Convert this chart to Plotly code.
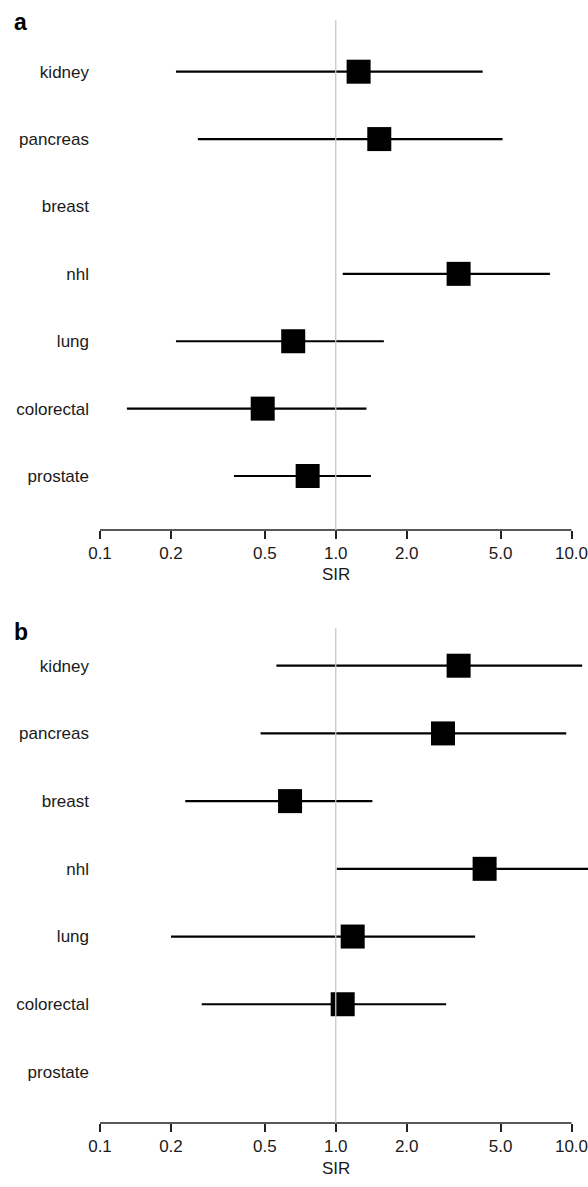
import plotly.graph_objects as go

# ---- data ----
categories = ["kidney", "pancreas", "breast", "nhl", "lung", "colorectal", "prostate"]
a_sir = [1.25, 1.53, None, 3.32, 0.66, 0.49, 0.76]
a_low = [0.21, 0.26, None, 1.07, 0.21, 0.13, 0.37]
a_high = [4.2, 5.1, None, 8.1, 1.6, 1.35, 1.41]
b_sir = [3.32, 2.85, 0.64, 4.28, 1.18, 1.07, None]
b_low = [0.56, 0.48, 0.23, 1.01, 0.20, 0.27, None]
b_high = [11.1, 9.5, 1.43, 13.0, 3.9, 2.94, None]
tick_vals = [0.1, 0.2, 0.5, 1, 2, 5, 10]
tick_text = ["0.1", "0.2", "0.5", "1.0", "2.0", "5.0", "10.0"]
panel_labels = ["a", "b"]
ref_value = 1.0
x_title = "SIR"

FONT = "Liberation Sans, Arial, Helvetica, sans-serif"
W, H = 588, 1187
rows = list(range(len(categories), 0, -1))

panels = [
    dict(sir=a_sir, low=a_low, high=a_high, ydom=[1 - 530 / H, 1 - 20 / H], yr=[0.199, 7.767]),
    dict(sir=b_sir, low=b_low, high=b_high, ydom=[1 - 1123 / H, 1 - 628 / H], yr=[0.246, 7.557]),
]

fig = go.Figure()
layout = dict(
    width=W, height=H, margin=dict(l=0, r=0, t=0, b=0),
    paper_bgcolor="white", plot_bgcolor="white", showlegend=False,
    font=dict(family=FONT, size=17, color="#1a1a1a"),
)
shapes, annotations = [], []

for i, p in enumerate(panels):
    sfx = "" if i == 0 else str(i + 1)
    xa, ya = "x" + sfx, "y" + sfx
    lx, ly = [], []
    mx, my = [], []
    for r, s, lo, hi in zip(rows, p["sir"], p["low"], p["high"]):
        if s is None:
            continue
        lx += [lo, hi, None]
        ly += [r, r, None]
        mx.append(s)
        my.append(r)
    fig.add_trace(go.Scatter(x=lx, y=ly, mode="lines", line=dict(color="black", width=2.2),
                             xaxis=xa, yaxis=ya, hoverinfo="skip"))
    fig.add_trace(go.Scatter(x=mx, y=my, mode="markers",
                             marker=dict(symbol="square", size=24, color="black", line=dict(width=0)),
                             xaxis=xa, yaxis=ya))
    layout["xaxis" + sfx] = dict(
        type="log", range=[-1, 1.070], domain=[100 / W, 1], anchor=ya,
        showgrid=False, zeroline=False, showline=False,
        tickmode="array", tickvals=tick_vals, ticktext=tick_text,
        ticks="outside", ticklen=8, tickwidth=1.5, tickcolor="#222",
        ticklabeloverflow="allow",
        tickfont=dict(size=17, color="#1a1a1a"), automargin=False,
    )
    layout["yaxis" + sfx] = dict(
        range=p["yr"], domain=p["ydom"], anchor=xa,
        showgrid=False, zeroline=False, showline=False,
        tickmode="array", tickvals=rows, ticktext=categories,
        ticks="", ticklabelstandoff=10,
        tickfont=dict(size=17, color="#1a1a1a"), automargin=False,
    )
    # axis line from 0.1 to 10
    shapes.append(dict(type="line", xref=xa, yref=ya + " domain", x0=tick_vals[0], x1=tick_vals[-1],
                       y0=0, y1=0, line=dict(color="#222", width=1.5)))
    # reference line at SIR = 1
    shapes.append(dict(type="line", xref=xa, yref=ya + " domain", x0=ref_value, x1=ref_value,
                       y0=0, y1=1, line=dict(color="#c8c8c8", width=1.3), layer="above"))
    annotations.append(dict(text=x_title, xref=xa, yref=ya + " domain", x=0, y=0,
                            yshift=-45, showarrow=False, font=dict(size=17, color="#1a1a1a"),
                            xanchor="center", yanchor="middle"))
    annotations.append(dict(text="<b>" + panel_labels[i] + "</b>", xref="paper", yref="paper",
                            x=12 / W, y=1 - (22 if i == 0 else 632) / H, showarrow=False,
                            xanchor="left", yanchor="middle", font=dict(size=23, color="black")))

layout["shapes"] = shapes
layout["annotations"] = annotations
fig.update_layout(**layout)
fig.write_html("out.html", config={"displayModeBar": False},
               post_script="document.body.style.margin='0';document.body.style.overflow='hidden';")
